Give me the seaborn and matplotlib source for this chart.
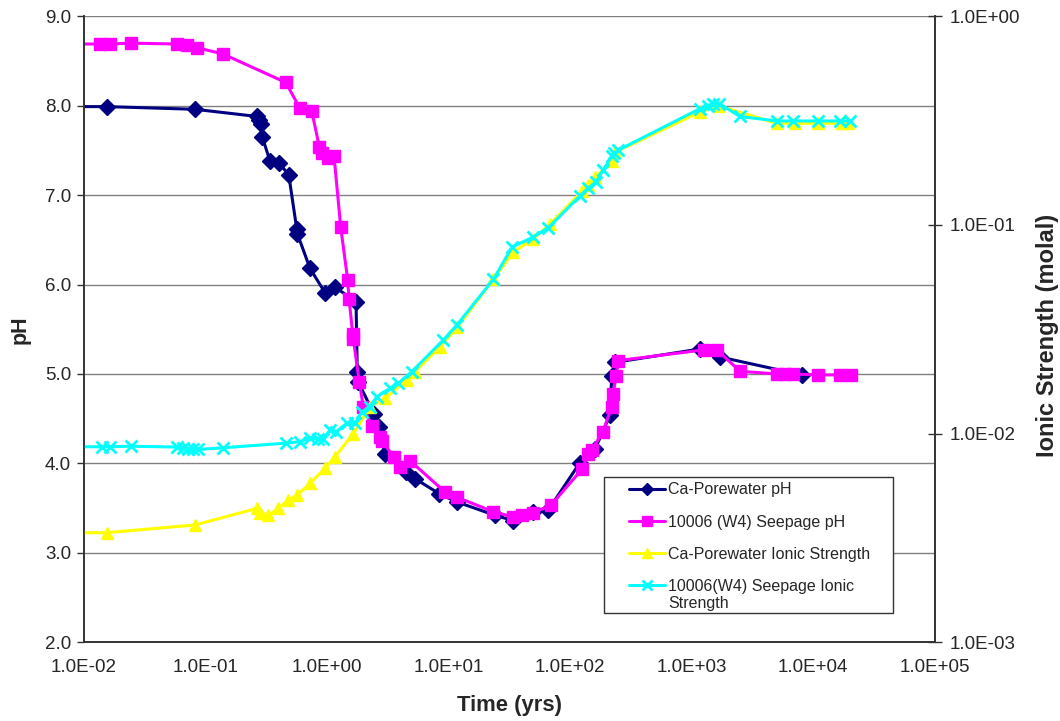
import numpy as np
import pandas as pd
import seaborn as sns
import matplotlib.pyplot as plt
import matplotlib.patches as mpatches
from matplotlib.lines import Line2D
from matplotlib.ticker import FixedLocator, FuncFormatter, NullLocator

# Ca-Porewater pH
ca_ph_t = [0.005, 0.0155, 0.0826, 0.266, 0.278, 0.287, 0.295, 0.342, 0.403, 0.487,
           0.567, 0.573, 0.729, 0.968, 1.170, 1.742, 1.783, 1.819, 2.449, 2.692,
           3.016, 4.489, 5.323, 8.435, 11.72, 24.21, 34.23, 50.0, 66.45, 121.1,
           160.9, 213.7, 220.7, 234.9, 1175, 1715, 8060]
ca_ph = [7.99, 7.99, 7.96, 7.88, 7.84, 7.79, 7.65, 7.38, 7.36, 7.23,
         6.62, 6.57, 6.18, 5.91, 5.97, 5.81, 5.02, 4.91, 4.55, 4.41,
         4.11, 3.90, 3.83, 3.66, 3.57, 3.42, 3.36, 3.46, 3.48, 4.01,
         4.16, 4.54, 4.98, 5.13, 5.28, 5.19, 4.99]

# 10006 (W4) Seepage pH
sp_ph_t = [0.005, 0.01367, 0.01652, 0.02459, 0.05839, 0.07059, 0.0853, 0.1395, 0.4601, 0.6031,
           0.753, 0.8693, 0.9098, 1.031, 1.148, 1.304, 1.488, 1.525, 1.636, 1.655,
           1.853, 2.000, 2.345, 2.744, 2.834, 3.597, 4.007, 4.842, 9.393, 11.86,
           23.45, 34.23, 40.15, 50.0, 69.52, 126.5, 141.7, 151.1, 186.1, 220.7,
           227.5, 239.4, 250.0, 1264, 1618, 2505, 5077, 5873, 6872, 10910,
           16490, 20500]
sp_ph = [8.69, 8.69, 8.69, 8.70, 8.69, 8.68, 8.65, 8.58, 8.26, 7.97,
         7.94, 7.54, 7.47, 7.42, 7.44, 6.64, 6.05, 5.84, 5.45, 5.39,
         4.91, 4.63, 4.42, 4.29, 4.25, 4.07, 3.96, 4.03, 3.68, 3.62,
         3.46, 3.40, 3.42, 3.45, 3.53, 3.94, 4.11, 4.15, 4.35, 4.63,
         4.78, 4.98, 5.15, 5.27, 5.27, 5.03, 5.00, 5.00, 5.00, 4.99,
         4.99, 4.99]

# Ca-Porewater Ionic Strength (molal)
ca_is_t = [0.005, 0.0155, 0.0826, 0.266, 0.283, 0.331, 0.400, 0.483, 0.573, 0.729,
           0.968, 1.170, 1.655, 2.270, 3.016, 4.549, 5.323, 8.546, 11.86, 23.45,
           34.04, 49.72, 68.6, 125.8, 140.9, 160.9, 221.9, 234.9, 1175, 1693,
           5021, 7100, 11030, 17190, 19480]
ca_is = [0.00335, 0.00335, 0.00365, 0.00438, 0.00415, 0.00407, 0.00438, 0.00481, 0.00508, 0.00578,
         0.00682, 0.00775, 0.0100, 0.01346, 0.01475, 0.01807, 0.0198, 0.0261, 0.0323, 0.0548,
         0.0741, 0.0855, 0.101, 0.145, 0.155, 0.169, 0.202, 0.223, 0.348, 0.371,
         0.307, 0.307, 0.307, 0.307, 0.307]

# 10006(W4) Seepage Ionic Strength (molal)
sp_is_t = [0.005, 0.01412, 0.01652, 0.02445, 0.05839, 0.06617, 0.07276, 0.0800, 0.08793, 0.1395,
           0.4601, 0.6031, 0.7291, 0.853, 0.9377, 1.064, 1.192, 1.460, 1.709, 1.941,
           2.270, 2.578, 3.316, 3.880, 5.000, 9.095, 11.72, 23.45, 33.41, 49.72,
           66.07, 121.1, 140.9, 163.9, 187.2, 221.9, 230.5, 248.6, 1175, 1367,
           1503, 1683, 2505, 5049, 6833, 10970, 16650, 20120]
sp_is = [0.00865, 0.00865, 0.00865, 0.0087, 0.00862, 0.0085, 0.0084, 0.0084, 0.0084, 0.00855,
         0.0090, 0.00915, 0.0095, 0.0094, 0.0094, 0.0104, 0.0102, 0.0112, 0.0112, 0.0127,
         0.01346, 0.0150, 0.0165, 0.0174, 0.0198, 0.0281, 0.0331, 0.0548, 0.0783, 0.0875,
         0.0967, 0.138, 0.150, 0.160, 0.183, 0.214, 0.221, 0.228, 0.361, 0.373,
         0.382, 0.382, 0.331, 0.315, 0.315, 0.315, 0.315, 0.315]

labels = ["Ca-Porewater pH", "10006 (W4) Seepage pH",
          "Ca-Porewater Ionic Strength", "10006(W4) Seepage Ionic"]
label_wrap = "Strength"
colors = ["#000080", "#FF00FF", "#FFFF00", "#00FFFF"]
markers = ["D", "s", "^", "x"]
msizes = [8, 8.5, 9, 9]

sns.set_style("white")
plt.rcParams['font.family'] = ['Liberation Sans', 'DejaVu Sans']

fig = plt.figure(figsize=(10.6, 7.21), dpi=100)
ax = fig.add_axes([0.0788, 0.1092, 0.8030, 0.8682])
ax.set_xscale("log")
ax2 = ax.twinx()
ax2.set_yscale("log")

series = [(ax, ca_ph_t, ca_ph), (ax, sp_ph_t, sp_ph),
          (ax2, ca_is_t, ca_is), (ax2, sp_is_t, sp_is)]
for i, (a, t, v) in enumerate(series):
    df = pd.DataFrame({"t": t, "v": v})
    mew = 2 if markers[i] == "x" else 1
    sns.lineplot(data=df, x="t", y="v", ax=a, color=colors[i], marker=markers[i],
                 markersize=msizes[i], markeredgecolor=colors[i], markeredgewidth=mew,
                 linewidth=2.2, estimator=None, sort=False, legend=False)

ax.set_xlim(0.01, 1e5)
ax.set_ylim(2, 9)
ax2.set_ylim(1e-3, 1)

ax.set_yticks(np.arange(2, 10, 1))
ax.yaxis.set_major_formatter(FuncFormatter(lambda v, p: f"{v:.1f}"))
ax.xaxis.set_major_locator(FixedLocator([10.0 ** k for k in range(-2, 6)]))
ax.xaxis.set_minor_locator(NullLocator())
ax.xaxis.set_major_formatter(FuncFormatter(lambda v, p: f"{v:.1E}"))
ax2.yaxis.set_major_locator(FixedLocator([1e-3, 1e-2, 1e-1, 1]))
ax2.yaxis.set_minor_locator(NullLocator())
ax2.yaxis.set_major_formatter(FuncFormatter(lambda v, p: f"{v:.1E}"))

ax.grid(axis="y", color="#808080", linewidth=1)
ax.grid(axis="x", visible=False)
ax2.grid(False)

for a in (ax, ax2):
    a.spines["top"].set_visible(False)
    for s in ("left", "right", "bottom"):
        a.spines[s].set_color("#333333")
        a.spines[s].set_linewidth(1.2)
ax.tick_params(axis="both", which="major", labelsize=13.5, direction="out",
               length=5, width=1, color="#333333", pad=4)
ax.tick_params(axis="x", pad=7)
ax2.tick_params(axis="y", which="major", labelsize=13.5, direction="inout",
                length=10, width=1, color="#333333", pad=6)

ax.set_xlabel("Time (yrs)", fontsize=15.8, fontweight="bold", labelpad=14)
ax.set_ylabel("pH", fontsize=15.5, fontweight="bold", labelpad=10)
ax2.set_ylabel("Ionic Strength (molal)", fontsize=17, fontweight="bold")
ax2.yaxis.set_label_coords(1.119, 0.49)

# legend frame drawn as a box, entries placed inside it
frame = mpatches.Rectangle((0.6115, 0.0473), 0.3395, 0.2168, transform=ax2.transAxes,
                           facecolor="white", edgecolor="#333333", linewidth=1,
                           zorder=5, clip_on=False)
ax2.add_patch(frame)
handles = [Line2D([], [], color=colors[i], marker=markers[i], markersize=msizes[i] * 0.8,
                  markeredgecolor=colors[i], markeredgewidth=2 if markers[i] == "x" else 1,
                  linewidth=2.2) for i in range(4)]
leg = ax2.legend(handles, labels, loc="upper left", bbox_to_anchor=(0.6409, 0.2556),
                 fontsize=11.5, frameon=False, handlelength=2.25, handletextpad=0.2,
                 labelspacing=1.08, borderpad=0, borderaxespad=0)
leg.set_zorder(6)
ax2.annotate(label_wrap, xy=(0, 0), xycoords=leg.get_texts()[3], xytext=(0, -1.5),
             textcoords="offset points", ha="left", va="top", fontsize=11.5, zorder=7)

fig.savefig("out.png", dpi=100)
